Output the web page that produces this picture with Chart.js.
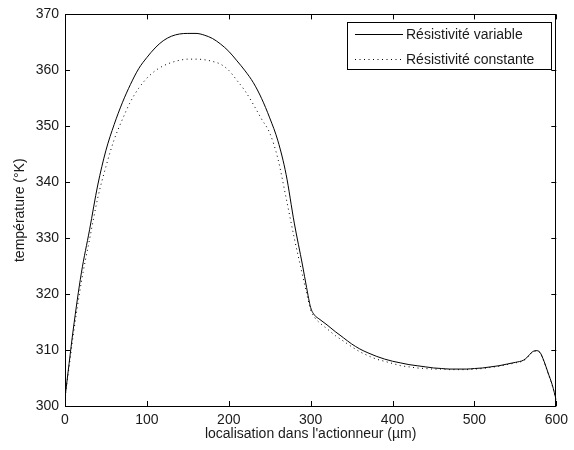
<!DOCTYPE html>
<html>
<head>
<meta charset="utf-8">
<script src="https://cdn.jsdelivr.net/npm/chart.js@4/dist/chart.umd.min.js"></script>
<style>
  html, body { margin: 0; padding: 0; background: #fff; }
  canvas { display: block; }
</style>
</head>
<body>
<canvas id="c" width="574" height="450"></canvas>
<script>
// Positions along the actuator (µm)
const positions = [0, 5, 10, 20, 30, 40, 50, 60, 70, 80, 90, 100, 110, 120, 130, 140, 150, 160, 170, 180, 190, 200,
  210, 220, 230, 240, 250, 260, 270, 280, 290, 295, 300, 305, 310, 320, 330, 340, 350, 360, 370, 380, 390, 400,
  410, 420, 430, 440, 450, 460, 470, 480, 490, 500, 510, 520, 530, 540, 550, 560, 565, 570, 575, 580, 585, 590, 595, 600];

// Temperature (K), variable resistivity
const tempVariable = [301.5, 307.6, 313.6, 323.8, 331.5, 339.5, 345.7, 350.3, 354.2, 357.5, 360.3, 362.3, 364.0, 365.3, 366.1, 366.5, 366.6, 366.6, 366.3, 365.7, 364.7, 363.4,
  361.7, 359.9, 357.8, 355.0, 351.5, 347.4, 341.4, 332.7, 325.2, 321.2, 317.6, 316.2, 315.6, 314.5, 313.3, 312.2, 311.1, 310.2, 309.5, 308.9, 308.4, 308.0,
  307.7, 307.4, 307.2, 307.0, 306.8, 306.7, 306.6, 306.6, 306.6, 306.7, 306.8, 307.0, 307.2, 307.5, 307.8, 308.2, 308.8, 309.6, 309.9, 309.6, 308.0, 305.9, 303.8, 301.0];

// Temperature (K), constant resistivity
const tempConstant = [301.5, 307.0, 312.6, 322.2, 329.8, 337.2, 342.8, 347.6, 351.2, 354.4, 356.8, 358.6, 359.9, 360.8, 361.4, 361.8, 362.0, 362.0, 361.9, 361.6, 361.1, 360.0,
  358.2, 356.3, 353.9, 351.3, 348.8, 344.2, 337.2, 330.0, 323.4, 320.2, 317.2, 315.8, 315.0, 313.8, 312.6, 311.6, 310.6, 309.7, 309.0, 308.4, 308.0, 307.6,
  307.2, 307.0, 306.8, 306.7, 306.6, 306.6, 306.5, 306.5, 306.5, 306.6, 306.7, 306.9, 307.1, 307.4, 307.7, 308.1, 308.7, 309.5, 309.8, 309.5, 307.9, 305.8, 303.7, 301.0];

const seriesLabels = ['Résistivité variable', 'Résistivité constante'];
const xTicks = [0, 100, 200, 300, 400, 500, 600];
const yTicks = [300, 310, 320, 330, 340, 350, 360, 370];
const xTitle = "localisation dans l'actionneur (µm)";
const yTitle = 'température (°K)';

const FONT = 'Liberation Sans, Arial, Helvetica, sans-serif';
const TEXT = '#1a1a1a';

const framePlugin = {
  id: 'frame',
  beforeDraw(chart) {
    const ctx = chart.ctx;
    ctx.save();
    ctx.fillStyle = '#fff';
    ctx.fillRect(0, 0, chart.width, chart.height);
    ctx.restore();
  },
  afterDatasetsDraw(chart) {
    const {ctx, chartArea: a, scales: {x, y}} = chart;
    ctx.save();
    ctx.strokeStyle = '#000';
    ctx.lineWidth = 1;
    ctx.strokeRect(Math.round(a.left) + 0.5, Math.round(a.top) + 0.5,
      Math.round(a.right - a.left) - 1, Math.round(a.bottom - a.top));
    const tl = 5;
    ctx.beginPath();
    xTicks.forEach(v => {
      const px = Math.round(x.getPixelForValue(v)) + 0.5;
      ctx.moveTo(px, a.bottom); ctx.lineTo(px, a.bottom - tl);
      ctx.moveTo(px, a.top); ctx.lineTo(px, a.top + tl);
    });
    yTicks.forEach(v => {
      const py = Math.round(y.getPixelForValue(v)) + 0.5;
      ctx.moveTo(a.left, py); ctx.lineTo(a.left + tl, py);
      ctx.moveTo(a.right, py); ctx.lineTo(a.right - tl, py);
    });
    ctx.stroke();

    // legend
    const lx = 347.5, ly = 22.5, lw = 204, lh = 47;
    ctx.fillStyle = '#fff';
    ctx.fillRect(lx, ly, lw, lh);
    ctx.strokeRect(lx, ly, lw, lh);
    const rows = [34, 59];
    chart.data.datasets.forEach((ds, i) => {
      ctx.save();
      ctx.strokeStyle = ds.borderColor;
      ctx.lineWidth = ds.borderWidth;
      ctx.setLineDash(ds.borderDash || []);
      ctx.beginPath();
      ctx.moveTo(355, rows[i] + 0.5);
      ctx.lineTo(403, rows[i] + 0.5);
      ctx.stroke();
      ctx.restore();
      ctx.fillStyle = TEXT;
      ctx.font = '14px ' + FONT;
      ctx.textBaseline = 'middle';
      ctx.textAlign = 'left';
      ctx.fillText(ds.label, 406, rows[i] + 1);
    });
    ctx.restore();
  }
};

new Chart(document.getElementById('c'), {
  type: 'line',
  data: {
    datasets: [
      {
        label: seriesLabels[0],
        data: positions.map((p, i) => ({x: p, y: tempVariable[i]})),
        borderColor: '#000',
        borderWidth: 1,
        pointRadius: 0,
        fill: false,
        cubicInterpolationMode: 'monotone'
      },
      {
        label: seriesLabels[1],
        data: positions.map((p, i) => ({x: p, y: tempConstant[i]})),
        borderColor: '#000',
        borderWidth: 1,
        borderDash: [1, 3.5],
        pointRadius: 0,
        fill: false,
        cubicInterpolationMode: 'monotone'
      }
    ]
  },
  options: {
    responsive: false,
    animation: false,
    layout: { padding: { top: 14, right: 11, left: 0, bottom: 0 } },
    plugins: { legend: { display: false }, tooltip: { enabled: false } },
    scales: {
      x: {
        type: 'linear',
        min: 0, max: 600,
        afterBuildTicks(s) { s.ticks = xTicks.map(v => ({value: v})); },
        afterFit(s) { s.height = 44; },
        grid: { display: false, drawTicks: false },
        border: { display: false },
        ticks: { padding: 6, color: TEXT, font: { family: FONT, size: 14 }, maxRotation: 0, autoSkip: false },
        title: { display: true, text: xTitle, color: TEXT, font: { family: FONT, size: 14 }, padding: { top: 0, bottom: 7.6 } }
      },
      y: {
        type: 'linear',
        min: 300, max: 370,
        afterBuildTicks(s) { s.ticks = yTicks.map(v => ({value: v})); },
        afterFit(s) { s.width = 65; },
        grid: { display: false, drawTicks: false },
        border: { display: false },
        ticks: { padding: 6, color: TEXT, font: { family: FONT, size: 14 }, autoSkip: false },
        title: { display: true, text: yTitle, color: TEXT, font: { family: FONT, size: 14 }, padding: { top: 11.6, bottom: 0 } }
      }
    }
  },
  plugins: [framePlugin]
});
</script>
</body>
</html>
